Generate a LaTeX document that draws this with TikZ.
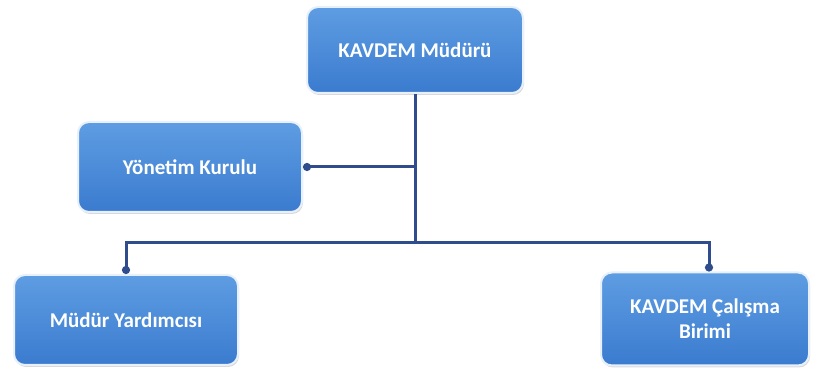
\documentclass[tikz,border=0pt]{standalone}
\usepackage{fontspec}
\setmainfont{Carlito}
\usetikzlibrary{arrows.meta, shadows}
\definecolor{boxtop}{HTML}{5E9DE2}
\definecolor{boxbot}{HTML}{3B7BCF}
\definecolor{linkblue}{HTML}{2F4C8C}
\tikzset{
  orgbox/.style={rounded corners=11pt, top color=boxtop, bottom color=boxbot,
    draw=white!85!boxtop, line width=2pt, text=white, align=center,
    font=\fontsize{21}{25}\selectfont\bfseries,
    drop shadow={opacity=0.3, shadow xshift=1pt, shadow yshift=-2pt}},
  link/.style={draw=linkblue, line width=3pt},
  dotend/.style={link, -{Circle[length=8pt, width=8pt]}}
}

\begin{document}
\begin{tikzpicture}[x=1pt, y=-1pt]
      \useasboundingbox (0,0) rectangle (817,371);

      % Box for the head
      \node[orgbox, minimum width=216pt, minimum height=86pt] (mudur) at (415,50) {KAVDEM Müdürü};

      % Box for the board
      \node[orgbox, minimum width=224pt, minimum height=90pt] (kurul) at (190,167) {Yönetim Kurulu};

      % Boxes at the bottom
      \node[orgbox, minimum width=224pt, minimum height=90pt] (yardimci) at (126,320) {Müdür Yardımcısı};
      \node[orgbox, minimum width=208pt, minimum height=93pt] (birim) at (705,319) {KAVDEM Çalışma\\Birimi};

      % Links
      \coordinate (kol) at (415,243);
      \draw[link] (mudur.south) -- (kol);
      \draw[dotend] (kurul.east -| mudur.south) -- (kurul.east);
      \draw[dotend] (kol) -| (yardimci.north);
      \draw[dotend] (kol) -| ([xshift=4pt]birim.north);
    \end{tikzpicture}
\end{document}
